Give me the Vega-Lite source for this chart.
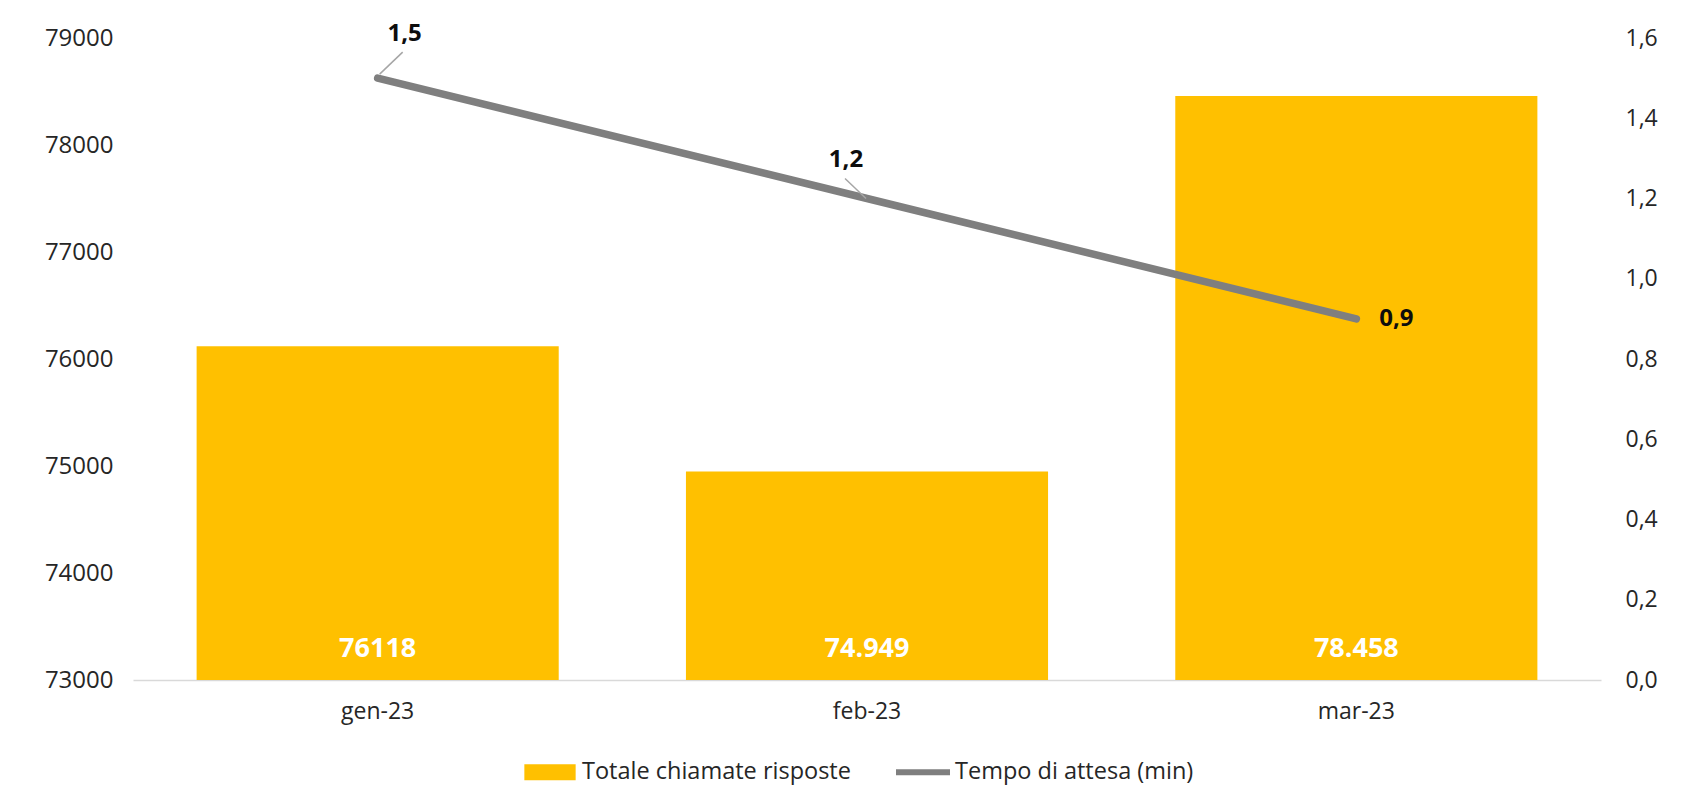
{
  "$schema": "https://vega.github.io/schema/vega-lite/v6.json",
  "width": 1468,
  "height": 642,
  "autosize": {"type": "none"},
  "padding": {"left": 133, "top": 38, "right": 86, "bottom": 124},
  "background": "white",
  "config": {
    "view": {"stroke": null},
    "font": "Open Sans",
    "axis": {"labelFont": "Open Sans", "labelColor": "#262626", "grid": false, "ticks": false, "title": null}
  },
  "data": {
    "values": [
      {"month": "gen-23", "calls": 76118, "callsLabel": "76118", "wait": 1.5, "waitLabel": "1,5"},
      {"month": "feb-23", "calls": 74949, "callsLabel": "74.949", "wait": 1.2, "waitLabel": "1,2"},
      {"month": "mar-23", "calls": 78458, "callsLabel": "78.458", "wait": 0.9, "waitLabel": "0,9"}
    ]
  },
  "encoding": {
    "x": {
      "field": "month",
      "type": "nominal",
      "sort": null,
      "scale": {"paddingInner": 0.26, "paddingOuter": 0.13},
      "axis": {
        "title": null,
        "labelAngle": 0,
        "labelFontSize": 23,
        "labelPadding": 20,
        "domain": true,
        "domainColor": "#d9d9d9",
        "domainWidth": 1.5,
        "ticks": false
      }
    }
  },
  "layer": [
    {
      "encoding": {
        "y": {
          "field": "calls",
          "type": "quantitative",
          "scale": {"domain": [73000, 79000], "zero": false, "nice": false},
          "axis": {
            "orient": "left",
            "title": null,
            "values": [73000, 74000, 75000, 76000, 77000, 78000, 79000],
            "format": "d",
            "labelFontSize": 24,
            "labelPadding": 20,
            "domain": false,
            "ticks": false,
            "grid": false
          }
        }
      },
      "layer": [
        {
          "mark": {"type": "bar", "color": "#FFC000"},
          "encoding": {
            "y2": {"datum": 73000},
            "color": {
              "datum": "Totale chiamate risposte",
              "type": "nominal",
              "scale": {"domain": ["Totale chiamate risposte", "Tempo di attesa (min)"], "range": ["#FFC000", "#7F7F7F"]},
              "legend": {
                "title": null,
                "orient": "none",
                "direction": "horizontal",
                "legendX": 390,
                "legendY": 707,
                "labelFont": "Open Sans",
                "labelFontSize": 23.5,
                "labelColor": "#262626",
                "labelLimit": 500,
                "labelOffset": 5,
                "columnPadding": 45,
                "symbolSize": 2916,
                "symbolStrokeWidth": 0,
                "symbolOpacity": 1,
                "encode": {
                  "symbols": {
                    "update": {
                      "shape": {"signal": "datum.value === 'Tempo di attesa (min)' ? 'M-1,-0.11H1V0.11H-1Z' : 'M-0.95,-0.3H0.95V0.3H-0.95Z'"},
                      "fill": {"signal": "datum.value === 'Tempo di attesa (min)' ? '#7F7F7F' : '#FFC000'"},
                      "stroke": {"value": "transparent"},
                      "opacity": {"value": 1}
                    }
                  }
                }
              }
            }
          }
        },
        {
          "mark": {"type": "text", "color": "white", "fontWeight": "bold", "fontSize": 27, "font": "Open Sans", "baseline": "middle", "dy": -31},
          "encoding": {
            "y": {"datum": 73000, "type": "quantitative"},
            "text": {"field": "callsLabel"}
          }
        }
      ]
    },
    {
      "encoding": {
        "y": {
          "field": "wait",
          "type": "quantitative",
          "scale": {"domain": [0, 1.6], "nice": false},
          "axis": {
            "orient": "right",
            "title": null,
            "values": [0, 0.2, 0.4, 0.6, 0.8, 1.0, 1.2, 1.4, 1.6],
            "labelExpr": "replace(format(datum.value, '.1f'), '.', ',')",
            "labelFontSize": 23,
            "labelPadding": 24,
            "domain": false,
            "ticks": false,
            "grid": false
          }
        }
      },
      "layer": [
        {
          "mark": {"type": "line", "color": "#7F7F7F", "strokeWidth": 7.5, "strokeCap": "round"},
          "encoding": {
            "color": {"datum": "Tempo di attesa (min)", "type": "nominal"}
          }
        },
        {
          "transform": [{"filter": "datum.month === 'gen-23'"}],
          "mark": {"type": "rule", "color": "#a6a6a6", "strokeWidth": 1.5, "xOffset": 2, "yOffset": -4, "x2Offset": 25, "y2Offset": -26},
          "encoding": {"x2": {"field": "month"}, "y2": {"field": "wait"}}
        },
        {
          "transform": [{"filter": "datum.month === 'feb-23'"}],
          "mark": {"type": "rule", "color": "#a6a6a6", "strokeWidth": 1.5, "xOffset": -1, "yOffset": 0, "x2Offset": -22, "y2Offset": -20},
          "encoding": {"x2": {"field": "month"}, "y2": {"field": "wait"}}
        },
        {
          "transform": [{"filter": "datum.month === 'gen-23'"}],
          "mark": {"type": "text", "fontWeight": "bold", "fontSize": 24, "font": "Open Sans", "color": "#0d0d0d", "baseline": "middle", "dx": 27, "dy": -44},
          "encoding": {"text": {"field": "waitLabel"}}
        },
        {
          "transform": [{"filter": "datum.month === 'feb-23'"}],
          "mark": {"type": "text", "fontWeight": "bold", "fontSize": 24, "font": "Open Sans", "color": "#0d0d0d", "baseline": "middle", "dx": -21, "dy": -39},
          "encoding": {"text": {"field": "waitLabel"}}
        },
        {
          "transform": [{"filter": "datum.month === 'mar-23'"}],
          "mark": {"type": "text", "fontWeight": "bold", "fontSize": 24, "font": "Open Sans", "color": "#0d0d0d", "baseline": "middle", "dx": 40, "dy": 0},
          "encoding": {"text": {"field": "waitLabel"}}
        }
      ]
    }
  ],
  "resolve": {"scale": {"y": "independent"}}
}
